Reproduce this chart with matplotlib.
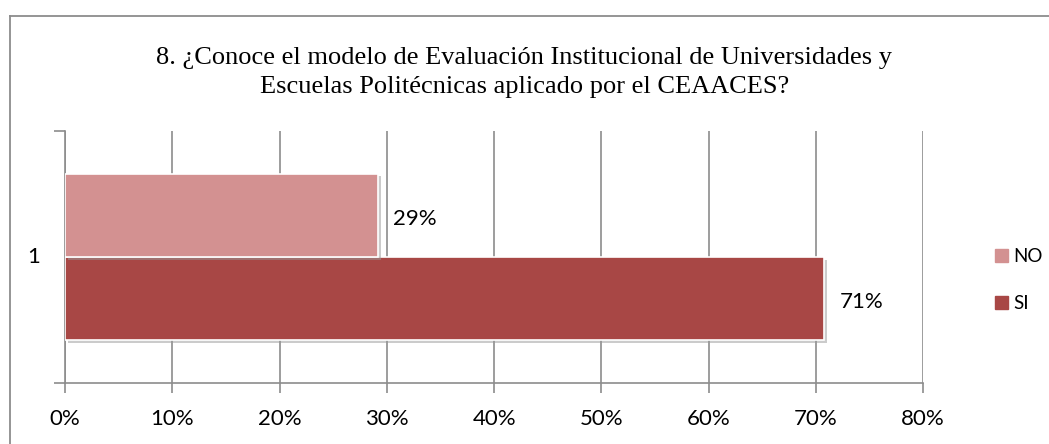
import matplotlib.pyplot as plt
import matplotlib.patheffects as pe
from matplotlib.lines import Line2D
from matplotlib.patches import Patch

# datos de la pregunta 8
categories = ['1']
series = ['SI', 'NO']
values = [70.8, 29.2]
labels = ['71%', '29%']
colors = ['#A84745', '#D39191']
xticks = [0, 10, 20, 30, 40, 50, 60, 70, 80]
title = '8. ¿Conoce el modelo de Evaluación Institucional de Universidades y\nEscuelas Politécnicas aplicado por el CEAACES?'

plt.rcParams['font.family'] = ['Lato', 'DejaVu Sans']

fig = plt.figure(figsize=(10.49, 4.44), dpi=100)
ax = fig.add_axes([0.062, 0.1374, 0.818, 0.5676])

h = 0.331
offsets = [h / 2, -h / 2]
shadow = [pe.SimplePatchShadow(offset=(2, -2), shadow_rgbFace='#999999', alpha=0.5), pe.Normal()]
for name, v, lab, c, off in zip(series, values, labels, colors, offsets):
    bars = ax.barh([1 + off], [v], height=h, color=c, edgecolor='white', linewidth=1.2, zorder=3)
    for b in bars:
        b.set_path_effects(shadow)
    ax.text(v + 1.4, 1 + off + 0.015, lab, va='center', ha='left', fontsize=16, color='black', zorder=4)

ax.set_xlim(0, 80)
ax.set_ylim(1.5, 0.5)
ax.set_xticks(xticks)
ax.set_xticklabels([f'{t}%' for t in xticks], fontsize=16)
ax.set_yticks([0.5, 1.5])
ax.set_yticklabels(['', ''])
ax.text(-0.037, 1, categories[0], transform=ax.get_yaxis_transform(), va='center', ha='center', fontsize=16)

ax.grid(axis='x', color='#8c8c8c', linewidth=1.2, zorder=0)
for s in ['top', 'right']:
    ax.spines[s].set_visible(False)
for s in ['left', 'bottom']:
    ax.spines[s].set_color('#8c8c8c')
    ax.spines[s].set_linewidth(1.2)
ax.tick_params(axis='x', direction='out', length=7, width=1.2, color='#8c8c8c', pad=12)
ax.tick_params(axis='y', direction='out', length=8, width=1.2, color='#8c8c8c')

handles = [Patch(color=colors[1], label='NO'), Patch(color=colors[0], label='SI')]
fig.legend(handles=handles, loc='center left', bbox_to_anchor=(0.932, 0.37), frameon=False,
           fontsize=13.5, handlelength=0.7, handleheight=0.7, handletextpad=0.3, labelspacing=1.6)

fig.text(0.5, 0.837, title, ha='center', va='center', fontsize=19, family='Liberation Serif',
         linespacing=1.45)

# marco del grafico
fig.add_artist(Line2D([0.0095, 0.0095], [0, 0.964], color='#8c8c8c', linewidth=1.3))
fig.add_artist(Line2D([0.0095, 1], [0.964, 0.964], color='#8c8c8c', linewidth=1.3))

plt.savefig('out.png', dpi=100)
